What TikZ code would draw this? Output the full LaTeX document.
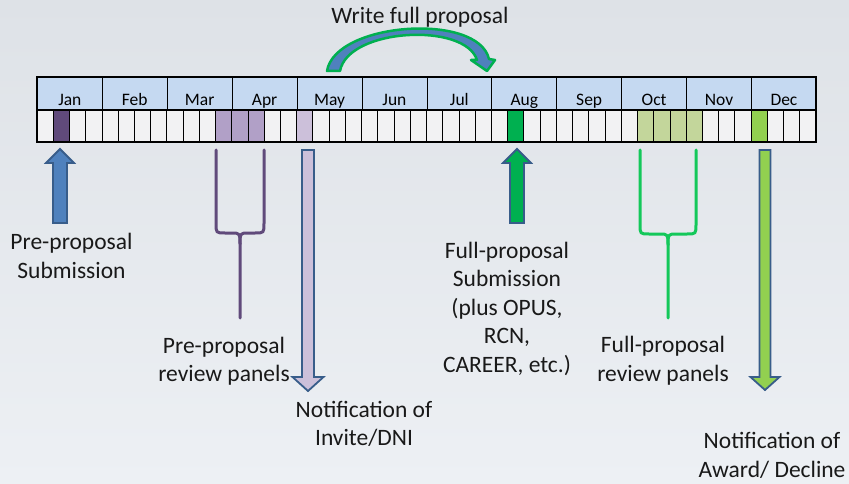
\documentclass[tikz,border=0pt]{standalone}
\usepackage{fontspec}
\setmainfont{Carlito}
\usepackage{xcolor}
\usetikzlibrary{positioning}

\definecolor{hdrblue}{RGB}{197,217,241}
\definecolor{cellbg}{RGB}{242,242,243}
\definecolor{prdark}{RGB}{96,74,123}
\definecolor{prmid}{RGB}{177,160,199}
\definecolor{prpale}{RGB}{204,192,218}
\definecolor{grfull}{RGB}{0,176,80}
\definecolor{grolive}{RGB}{195,214,155}
\definecolor{grlight}{RGB}{146,208,80}
\definecolor{grbrace}{RGB}{20,200,90}
\definecolor{arrblue}{RGB}{79,129,189}
\definecolor{arredge}{RGB}{56,93,138}
\definecolor{bgtop}{RGB}{222,226,231}
\definecolor{bgbot}{RGB}{237,240,244}

\begin{document}
\begin{tikzpicture}[
    x=1pt, y=-1pt,
    font=\fontsize{23.5}{28.5}\selectfont,
    month/.style={
        draw=black,
        line width=0.8pt,
        fill=hdrblue,
        anchor=north west,
        minimum width=64.917pt,
        minimum height=32pt,
        inner sep=0pt,
        text height=28.5pt,
        text depth=3.5pt,
        font=\fontsize{17.5}{20}\selectfont
    },
    cell/.style={draw=black, line width=0.8pt},
    txt/.style={align=center, inner sep=0pt, text=black!90},
    blockarr/.style={draw=arredge, line width=1.8pt, line join=miter},
    brace/.style={line width=3pt, line cap=round, line join=round}
]

% background
\shade[top color=bgtop, bottom color=bgbot] (0,0) rectangle (849,484);
\useasboundingbox (0,0) rectangle (849,484);

% month header
\foreach \m [count=\k from 0] in {Jan,Feb,Mar,Apr,May,Jun,Jul,Aug,Sep,Oct,Nov,Dec}
    \node[month] (m\k) at ({37+\k*64.917},77) {\m};

% week cells
\foreach \i in {0,...,47}
    \draw[cell, fill=cellbg] ({37+\i*16.229},109) rectangle ++(16.229,33);
\foreach \i/\c in {1/prdark, 11/prmid, 12/prmid, 13/prmid, 16/prpale, 29/grfull,
                   37/grolive, 38/grolive, 39/grolive, 40/grolive, 44/grlight}
    \draw[cell, fill=\c] ({37+\i*16.229},109) rectangle ++(16.229,33);

% frame
\draw[line width=2.2pt] (m0.north west) rectangle (816,142);
\draw[line width=2.2pt] (m0.south west) -- (m11.south east);

% write full proposal
\node[txt] (write) at (420,17) {Write full proposal};
\filldraw[fill=arrblue, draw=grfull, line width=2.5pt, line join=round]
    (327,71) .. controls (335,22) and (478,12) .. (489,59)
    -- (495,60) -- (487,71) -- (471,60) -- (477,60)
    .. controls (465,22) and (348,28) .. (340,71) -- cycle;

% pre-proposal
\filldraw[blockarr, fill=arrblue]
    (53,223) -- (53,163) -- (46,163) -- (60,149) -- (74,163) -- (67,163) -- (67,223) -- cycle;
\node[txt] (presub) at (71.5,256) {Pre-proposal\\Submission};

\draw[brace, prdark] (216,150) -- (216,223) .. controls (216,233) .. (225,233) -- (231,233)
    .. controls (240,233) .. (240,244) -- (240,318);
\draw[brace, prdark] (264,150) -- (264,223) .. controls (264,233) .. (255,233) -- (249,233)
    .. controls (240,233) .. (240,244);
\node[txt] (prerev) at (224,361) {Pre-proposal\\review panels};

\filldraw[blockarr, fill=prpale]
    (302,150) -- (302,377) -- (292.5,377) -- (308,391) -- (323.5,377) -- (314,377) -- (314,150) -- cycle;
\node[txt] (invite) at (364,424) {Notification of\\Invite/DNI};

% full proposal
\filldraw[blockarr, fill=grfull]
    (510,223) -- (510,163) -- (503,163) -- (517,149) -- (531,163) -- (524,163) -- (524,223) -- cycle;
\node[txt] (fullsub) at (507,308.5) {Full-proposal\\Submission\\(plus OPUS,\\RCN,\\CAREER, etc.)};

\draw[brace, grbrace] (640,150) -- (640,224) .. controls (640,234) .. (649,234) -- (659,234)
    .. controls (668,234) .. (668,245) -- (668,318);
\draw[brace, grbrace] (696,150) -- (696,224) .. controls (696,234) .. (687,234) -- (677,234)
    .. controls (668,234) .. (668,245);
\node[txt] (fullrev) at (663,360.5) {Full-proposal\\review panels};

\filldraw[blockarr, fill=grlight]
    (759.5,150) -- (759.5,377) -- (750.5,377) -- (765,390) -- (779.5,377) -- (770.5,377) -- (770.5,150) -- cycle;
\node[txt] (award) at (772,455.5) {Notification of\\Award/ Decline};

\end{tikzpicture}
\end{document}
